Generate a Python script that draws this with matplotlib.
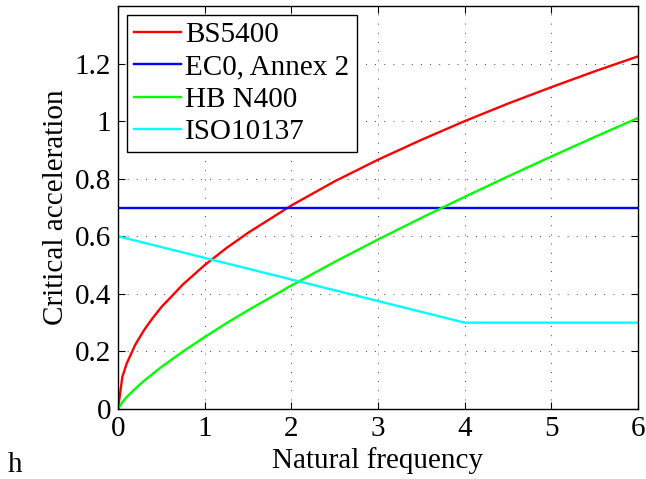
import matplotlib
matplotlib.use("Agg")
import matplotlib.pyplot as plt

# natural frequency (Hz) samples
freq = [0, 0.05, 0.1, 0.2, 0.3, 0.4, 0.5, 0.75, 1.0, 1.25, 1.5,
        2, 2.5, 3, 3.5, 4, 4.5, 5, 5.5, 6]
bs5400 = [0, 0.112, 0.158, 0.224, 0.274, 0.316, 0.354, 0.433, 0.5, 0.559, 0.612,
          0.707, 0.791, 0.866, 0.935, 1.0, 1.061, 1.118, 1.173, 1.225]
hbn400 = [0, 0.024, 0.042, 0.071, 0.098, 0.122, 0.146, 0.200, 0.25, 0.298, 0.343,
          0.429, 0.511, 0.589, 0.664, 0.737, 0.808, 0.877, 0.945, 1.011]

ec0_freq = [0, 6]
ec0 = [0.7, 0.7]

iso_freq = [0, 4, 6]
iso10137 = [0.6, 0.3, 0.3]

plt.rcParams["font.family"] = ["Liberation Serif", "DejaVu Serif"]

fig = plt.figure(figsize=(6.46, 4.79), dpi=100)
ax = fig.add_axes([0.1827, 0.1461, 0.8049, 0.8414])

ax.plot(freq, bs5400, color="#ff0000", lw=1.7, label="BS5400")
ax.plot(ec0_freq, ec0, color="#0000ff", lw=1.7, label="EC0, Annex 2")
ax.plot(freq, hbn400, color="#00ff00", lw=1.7, label="HB N400")
ax.plot(iso_freq, iso10137, color="#00ffff", lw=1.7, label="ISO10137")

ax.set_xlim(0, 6)
ax.set_ylim(0, 1.4)
ax.set_xticks([0, 1, 2, 3, 4, 5, 6])
ax.set_yticks([0, 0.2, 0.4, 0.6, 0.8, 1, 1.2])
ax.set_xticklabels(["0", "1", "2", "3", "4", "5", "6"])
ax.set_yticklabels(["0", "0.2", "0.4", "0.6", "0.8", "1", "1.2"])
ax.tick_params(direction="in", top=True, right=True, length=5, width=0.8,
               labelsize=21, pad=5)
ax.grid(True, linestyle=(0, (1, 10)), color="black", lw=0.6)
for s in ax.spines.values():
    s.set_linewidth(1.0)

ax.set_xlabel("Natural frequency", fontsize=21, labelpad=4)
ax.set_ylabel("Critical acceleration", fontsize=21, labelpad=4)

leg = ax.legend(loc="upper left", fontsize=21, frameon=True, fancybox=False,
                borderpad=0.25, labelspacing=0.2, handlelength=1.6,
                handletextpad=0.15, borderaxespad=0.3)
leg.get_frame().set_edgecolor("black")
leg.get_frame().set_linewidth(1.0)
leg.get_frame().set_alpha(1)

fig.text(0.012, 0.015, "h", fontsize=21)

fig.savefig("out.png", dpi=100)
